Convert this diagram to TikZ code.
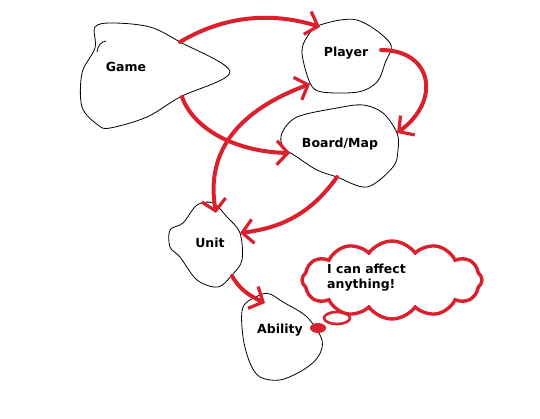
\documentclass[tikz,border=0pt]{standalone}
\usepackage{fontspec}
\setmainfont{DejaVu Sans}
\usetikzlibrary{arrows.meta,shapes.symbols}
\definecolor{pen}{RGB}{218,32,44}
\tikzset{
  blob/.style={draw=black,line width=0.8pt},
  lbl/.style={font=\bfseries\fontsize{12.5}{15}\selectfont,inner sep=0pt},
  tip/.tip={Straight Barb[length=11pt,width=24pt,line width=3.2pt]},
  redarrow/.style={draw=pen,line width=4pt,line cap=round,-tip},
  twoway/.style={draw=pen,line width=4pt,line cap=round,tip-tip},
}
\begin{document}
\begin{tikzpicture}[x=1pt,y=-1pt]
\useasboundingbox (0,0) rectangle (540,419);
% blobs
\draw[blob] plot[smooth cycle,tension=0.55] coordinates {(95,27) (113,23) (150,27) (180,42) (230,72) (180,97) (147,117) (110,128) (98,125) (82,107) (82,73) (95,48)};
\draw[blob] (97,52) .. controls (98,45) and (101,42) .. (106,41);
\draw[blob] plot[smooth cycle,tension=0.55] coordinates {(320,25) (357,20) (390,43) (385,63) (377,82) (358,92) (322,92) (310,83) (302,53) (307,37)};
\draw[blob] plot[smooth cycle,tension=0.55] coordinates {(282,133) (297,117) (337,108) (363,105) (383,113) (397,133) (398,150) (393,167) (367,187) (337,177) (317,170) (297,157) (283,147)};
\draw[blob] plot[smooth cycle,tension=0.55] coordinates {(197,205) (213,203) (227,217) (240,233) (242,260) (232,275) (218,287) (197,280) (180,257) (170,247) (170,230) (183,223)};
\draw[blob] plot[smooth cycle,tension=0.55] coordinates {(243,307) (260,295) (270,294) (283,302) (307,317) (322,340) (318,357) (303,370) (280,380) (260,377) (250,363) (243,337)};
% labels
\node[lbl] (game) at (126,67) {Game};
\node[lbl] (player) at (346,53) {Player};
\node[lbl] (board) at (340,144) {Board/Map};
\node[lbl] (unit) at (210,243) {Unit};
\node[lbl] (ability) at (280,330) {Ability};
% anchor points on outlines
\coordinate (gameR) at (180,42);
\coordinate (gameB) at (182,97);
\coordinate (playerL) at (320,27);
\coordinate (playerLB) at (310,84);
\coordinate (playerR) at (381,50);
\coordinate (boardL) at (290,153);
\coordinate (boardT) at (397,133);
\coordinate (boardB) at (337,177);
\coordinate (unitT) at (216,213);
\coordinate (unitR) at (240,233);
\coordinate (unitB) at (232,276);
\coordinate (abilityT) at (265,303);
% arrows
\draw[redarrow] (gameR) .. controls (230,12) and (280,14) .. (playerL);
\draw[redarrow] (gameB) .. controls (195,132) and (240,152) .. (boardL);
\draw[redarrow] (playerR) .. controls (432,50) and (442,100) .. (boardT);
\draw[twoway] (unitT) .. controls (205,150) and (240,110) .. (playerLB);
\draw[redarrow] (boardB) .. controls (310,215) and (280,228) .. (unitR);
\draw[redarrow] (unitB) .. controls (240,290) and (250,296) .. (abilityT);
% thought cloud
\node[cloud,draw=pen,line width=3.4pt,cloud puffs=12,cloud puff arc=110,aspect=2.4,
      minimum width=180pt,minimum height=78pt] (cloud) at (392,280) {};
\node[lbl,align=left,anchor=north west] (thought) at (327,264) {I can affect\\anything!};
\draw[draw=pen,line width=2.6pt] (337,318) ellipse (13 and 6);
\fill[pen] (318,328) ellipse (8 and 5);
\end{tikzpicture}
\end{document}
